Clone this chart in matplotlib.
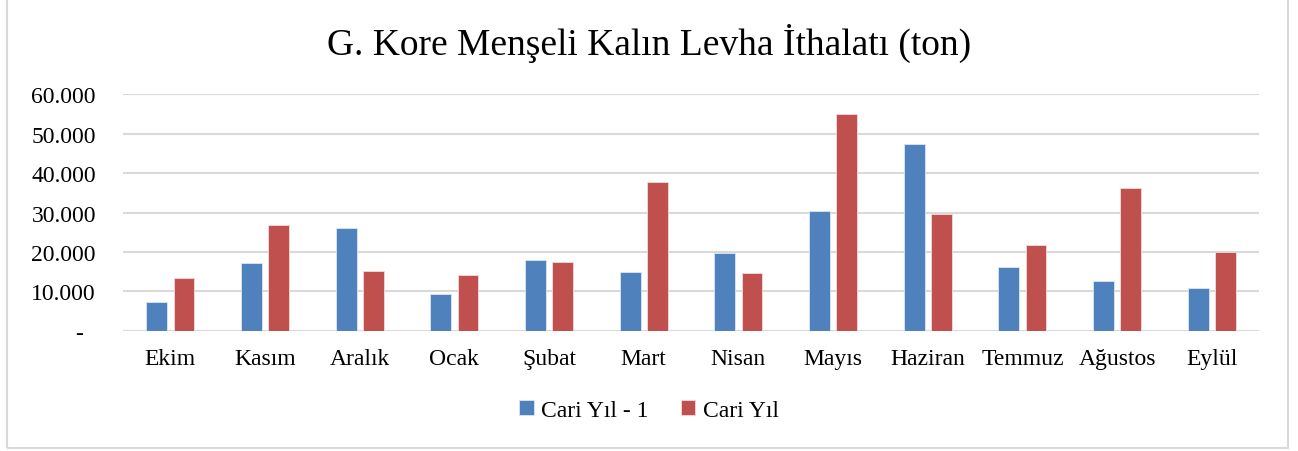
import matplotlib.pyplot as plt
import numpy as np
from matplotlib.patches import Rectangle

months = ["Ekim", "Kasım", "Aralık", "Ocak", "Şubat", "Mart", "Nisan",
          "Mayıs", "Haziran", "Temmuz", "Ağustos", "Eylül"]
prev_year = [7400, 17200, 26000, 9300, 17900, 15000, 19700,
             30300, 47400, 16300, 12600, 10900]
this_year = [13500, 26800, 15200, 14300, 17400, 37800, 14800,
             54900, 29500, 21800, 36300, 20100]
yticks = [0, 10000, 20000, 30000, 40000, 50000, 60000]
ylabels = ["-  ", "10.000", "20.000", "30.000", "40.000", "50.000", "60.000"]

plt.rcParams['font.family'] = ['Liberation Serif', 'DejaVu Serif']

fig = plt.figure(figsize=(12.98, 4.52), dpi=100)
ax = fig.add_axes([0.0948, 0.2655, 0.8752, 0.5243])

x = np.arange(len(months))
w = 0.22
ax.bar(x - 0.143, prev_year, w, color="#4F81BD", edgecolor="#DCE6F2", linewidth=0.6,
       label="Cari Yıl - 1", zorder=3)
ax.bar(x + 0.143, this_year, w, color="#C0504D", edgecolor="#F2DCDB", linewidth=0.6,
       label="Cari Yıl", zorder=3)

ax.set_xlim(-0.5, len(months) - 0.5)
ax.set_ylim(0, 60000)
ax.set_yticks(yticks)
ax.set_yticklabels(ylabels)
ax.set_xticks(x)
ax.set_xticklabels(months)
ax.tick_params(length=0, labelsize=17, colors="#000000")
ax.tick_params(axis="x", pad=12)
ax.tick_params(axis="y", pad=19.5)
ax.grid(axis="y", color="#D9D9D9", linewidth=1.5, zorder=0)
for s in ax.spines.values():
    s.set_visible(False)

fig.text(0.5, 0.905, "G. Kore Menşeli Kalın Levha İthalatı (ton)", ha="center",
         va="center", fontsize=27)

leg = fig.legend(loc="center", bbox_to_anchor=(0.5, 0.09), ncol=2, frameon=False,
                 fontsize=17, handlelength=0.6, handleheight=0.6, handletextpad=0.3,
                 columnspacing=1.4)

fig.patches.append(Rectangle((7 / 1298, 3 / 452), 1281 / 1298, 460 / 452,
                             transform=fig.transFigure, fill=False,
                             edgecolor="#D9D9D9", linewidth=1.5))

fig.savefig("out.png", dpi=100)
